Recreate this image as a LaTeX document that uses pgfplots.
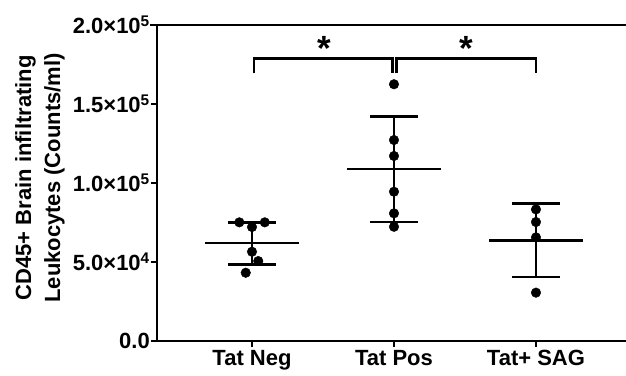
\documentclass[border=0pt]{standalone}
\usepackage{pgfplots}
\pgfplotsset{compat=1.18}
\usepackage{fontspec}
\setmainfont{Liberation Sans}
\begin{document}
\begin{tikzpicture}
\begin{axis}[
  scale only axis, width=469pt, height=316pt,
  xmin=-0.669, xmax=2.634, ymin=0, ymax=200000,
  axis lines*=left,
  axis line style={line width=2.3pt, black},
  clip=false,
  xtick={0,1,2}, xticklabels={Tat Neg, Tat Pos, Tat+ SAG},
  ytick={0,50000,100000,150000,200000},
  yticklabels={0.0, 5.0×10\textsuperscript{4}, 1.0×10\textsuperscript{5}, 1.5×10\textsuperscript{5}, 2.0×10\textsuperscript{5}},
  scaled y ticks=false,
  tick align=outside, major tick length=6pt,
  tick style={line width=2.3pt, black},
  ticklabel style={font=\fontsize{22}{26}\selectfont\bfseries},
  yticklabel style={inner sep=1pt},
  ylabel={CD45+ Brain infiltrating\\Leukocytes (Counts/ml)},
  ylabel style={font=\fontsize{22}{29}\selectfont\bfseries, align=center, at={(axis description cs:-0.2495,0.516)}, anchor=center},
]
\addplot[only marks, black, mark=-, mark size=46.7pt, mark options={line width=2.5pt},
  error bars/.cd, y dir=both, y explicit, error mark=|,
  error mark options={mark size=24pt, line width=2.5pt, black},
  error bar style={line width=2.5pt, black}]
  coordinates {
  (0,62000) += (0,13100) -= (0,13700)
  (1,108900) += (0,33300) -= (0,33600)
  (2,63700) += (0,23400) -= (0,23200)};
\addplot[only marks, mark=*, mark size=4.8pt, black] coordinates {
  (-0.089,75100) (0,72150) (0.09,75100) (0,56500) (0.044,50600) (-0.044,43200)
  (1,162500) (1,127200) (1,117100) (1,94500) (1,80800) (1,72300)
  (2,83300) (2,75300) (2,65600) (2,30600)};
\draw[line width=2.5pt] (axis cs:0.014,169400) -- (axis cs:0.014,178900) -- (axis cs:0.99,178900) -- (axis cs:0.99,169400);
\draw[line width=2.5pt] (axis cs:1.019,169400) -- (axis cs:1.019,178900) -- (axis cs:2,178900) -- (axis cs:2,169400);
\node[font=\fontsize{35}{35}\selectfont\bfseries] at (axis cs:0.509,185000) {*};
\node[font=\fontsize{35}{35}\selectfont\bfseries] at (axis cs:1.512,185000) {*};
\draw[line width=1.8pt] ([xshift=-7pt]rel axis cs:0,1) -- (rel axis cs:1,1);
\coordinate (O) at (rel axis cs:0,0);
\end{axis}
\pgfresetboundingbox
\path (O) ++(-157pt,-34pt) rectangle ++(626pt,375pt);
\end{tikzpicture}
\end{document}
